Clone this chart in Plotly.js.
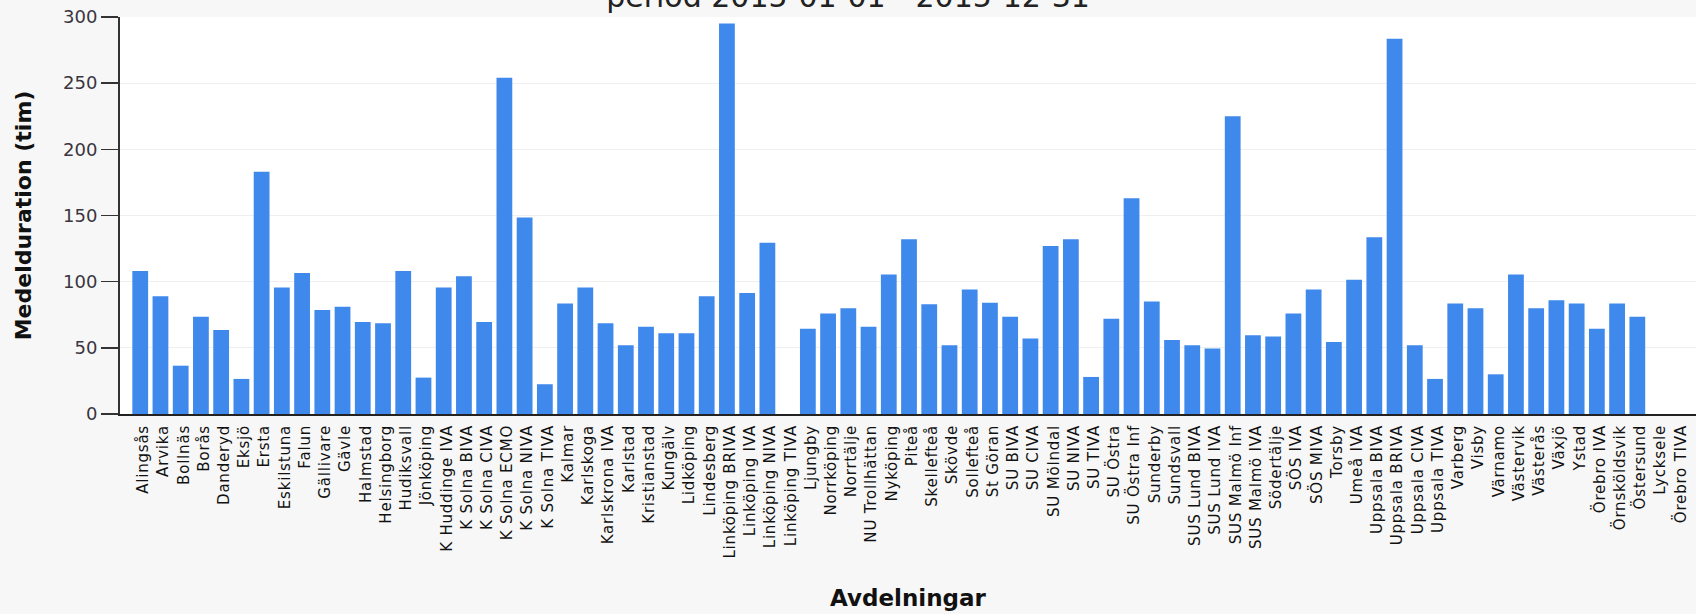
<!DOCTYPE html>
<html>
<head>
<meta charset="utf-8">
<script src="https://cdn.plot.ly/plotly-3.0.1.min.js"></script>
<style>
  html, body { margin: 0; padding: 0; background: #f7f7f7; }
  #chart { width: 1696px; height: 614px; }
  #chart .xtick text { letter-spacing: 0.8px; }
</style>
</head>
<body>
<div id="chart"></div>
<script>
// ---- data ----
const chartTitle = 'period 2015-01-01 - 2015-12-31';
const xTitle = 'Avdelningar';
const yTitle = 'Medelduration (tim)';

const categories = [
  'Alingsås','Arvika','Bollnäs','Borås','Danderyd','Eksjö','Ersta','Eskilstuna','Falun','Gällivare',
  'Gävle','Halmstad','Helsingborg','Hudiksvall','Jönköping','K Huddinge IVA','K Solna BIVA','K Solna CIVA','K Solna ECMO','K Solna NIVA',
  'K Solna TIVA','Kalmar','Karlskoga','Karlskrona IVA','Karlstad','Kristianstad','Kungälv','Lidköping','Lindesberg','Linköping BRIVA',
  'Linköping IVA','Linköping NIVA','Linköping TIVA','Ljungby','Norrköping','Norrtälje','NU Trollhättan','Nyköping','Piteå','Skellefteå',
  'Skövde','Sollefteå','St Göran','SU BIVA','SU CIVA','SU Mölndal','SU NIVA','SU TIVA','SU Östra','SU Östra Inf',
  'Sunderby','Sundsvall','SUS Lund BIVA','SUS Lund IVA','SUS Malmö Inf','SUS Malmö IVA','Södertälje','SÖS IVA','SÖS MIVA','Torsby',
  'Umeå IVA','Uppsala BIVA','Uppsala BRIVA','Uppsala CIVA','Uppsala TIVA','Varberg','Visby','Värnamo','Västervik','Västerås',
  'Växjö','Ystad','Örebro IVA','Örnsköldsvik','Östersund','Lycksele','Örebro TIVA'
];

const meanDuration = [
  108, 89, 36.5, 73.5, 63.5, 26.5, 183, 95.5, 106.5, 78.5,
  81, 69.5, 68.5, 108, 27.5, 95.5, 104, 69.5, 254, 148.5,
  22.5, 83.5, 95.5, 68.5, 52, 66, 61, 61, 89, 295,
  91.5, 129.5, null, 64.5, 76, 80, 66, 105.5, 132, 83,
  52, 94, 84, 73.5, 57, 127, 132, 28, 72, 163,
  85, 56, 52, 49.5, 225, 59.5, 58.5, 76, 94, 54.5,
  101.5, 133.5, 283.5, 52, 26.5, 83.5, 80, 30, 105.5, 80,
  86, 83.5, 64.5, 83.5, 73.5, null, null
];

const yTickVals = [0, 50, 100, 150, 200, 250, 300];
const xMajorTicks = [-1, 19, 39, 59];

// ---- chart ----
const xRange = [-1, 76.9];

const trace = {
  type: 'bar',
  x: categories,
  y: meanDuration,
  marker: { color: '#3f88ec', line: { width: 0 } },
  hoverinfo: 'x+y'
};

const layout = {
  width: 1696,
  height: 614,
  margin: { l: 120, r: 0, t: 17, b: 200, pad: 0 },
  paper_bgcolor: '#f7f7f7',
  plot_bgcolor: '#ffffff',
  font: { family: 'DejaVu Sans', color: '#222' },
  showlegend: false,
  bargap: 0.22,
  title: {
    text: chartTitle,
    font: { family: 'DejaVu Sans', size: 30, color: '#222' },
    x: 0.5, xref: 'container', xanchor: 'center',
    y: 0.988, yref: 'container', yanchor: 'bottom'
  },
  xaxis: {
    type: 'category',
    range: xRange,
    tickmode: 'linear', tick0: 0, dtick: 1,
    tickangle: -90,
    ticks: '',
    ticklabelstandoff: 3,
    ticklabelshift: 3,
    tickfont: { family: 'DejaVu Sans', size: 15, color: '#111' },
    showline: true, linecolor: '#222', linewidth: 2,
    showgrid: false, zeroline: false,
    title: { text: xTitle, font: { family: 'DejaVu Sans', size: 23, color: '#111', weight: 'bold' }, standoff: 44 },
    fixedrange: true
  },
  xaxis2: {
    overlaying: 'x', anchor: 'y', side: 'bottom',
    type: 'linear', range: xRange,
    tickmode: 'array', tickvals: xMajorTicks,
    ticks: 'outside', ticklen: 9, tickwidth: 2, tickcolor: '#222',
    showticklabels: false, showline: false, showgrid: false, zeroline: false
  },
  xaxis3: {
    overlaying: 'x', anchor: 'y', side: 'top',
    type: 'linear', range: xRange,
    ticks: '', showticklabels: false,
    showline: true, linecolor: '#636a73', linewidth: 2,
    showgrid: false, zeroline: false
  },
  yaxis: {
    range: [0, 300],
    tickmode: 'array', tickvals: yTickVals,
    ticks: 'outside', ticklen: 17, tickwidth: 1.5, tickcolor: '#333',
    tickfont: { family: 'DejaVu Sans', size: 18, color: '#3a3540' },
    showline: true, linecolor: '#333', linewidth: 2,
    showgrid: true, gridcolor: '#efefef', gridwidth: 1,
    zeroline: false,
    title: { text: yTitle, font: { family: 'DejaVu Sans', size: 22, color: '#111', weight: 'bold' }, standoff: 25 },
    fixedrange: true
  }
};

Plotly.newPlot('chart', [trace], layout, { displayModeBar: false, staticPlot: true });
</script>
</body>
</html>
